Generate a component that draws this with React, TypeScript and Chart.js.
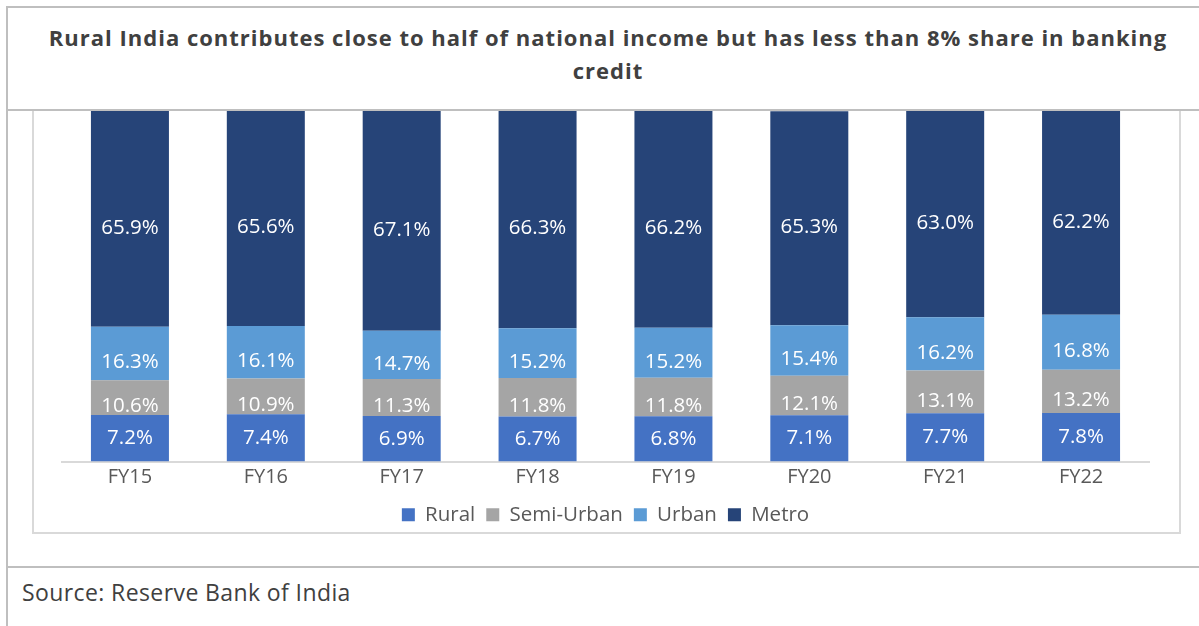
import React, { useEffect, useRef } from "react";
import { Chart, registerables } from "chart.js";

Chart.register(...registerables);

const categories = ["FY15", "FY16", "FY17", "FY18", "FY19", "FY20", "FY21", "FY22"];
const rural = [7.2, 7.4, 6.9, 6.7, 6.8, 7.1, 7.7, 7.8];
const semiUrban = [10.6, 10.9, 11.3, 11.8, 11.8, 12.1, 13.1, 13.2];
const urban = [16.3, 16.1, 14.7, 15.2, 15.2, 15.4, 16.2, 16.8];
const metro = [65.9, 65.6, 67.1, 66.3, 66.2, 65.3, 63.0, 62.2];
const seriesNames = ["Rural", "Semi-Urban", "Urban", "Metro"];
const axisMin = -7;
const axisMax = 100;

const titleText = "Rural India contributes close to half of national income but has less than 8% share in banking";
const titleText2 = "credit";
const sourceText = "Source: Reserve Bank of India";

const FONT = "'Open Sans', 'Noto Sans', sans-serif";

const labelPlugin = {
  id: "segLabels",
  afterDatasetsDraw(chart: any) {
    const ctx = chart.ctx;
    ctx.save();
    ctx.fillStyle = "#ffffff";
    ctx.font = `20.5px ${FONT}`;
    ctx.textAlign = "center";
    ctx.textBaseline = "middle";
    chart.data.datasets.forEach((ds: any, di: number) => {
      const meta = chart.getDatasetMeta(di);
      meta.data.forEach((bar: any, i: number) => {
        const { x, y, base } = bar.getProps(["x", "y", "base"], true);
        const off = di === 0 ? 0 : 9;
        ctx.fillText(Number(ds.data[i]).toFixed(1) + "%", x, (y + base) / 2 + off);
      });
    });
    ctx.restore();
  },
};

export default function App() {
  const ref = useRef<HTMLCanvasElement | null>(null);

  useEffect(() => {
    if (!ref.current) return;
    const colors = ["#4472C4", "#A5A5A5", "#5B9BD5", "#264478"];
    const values = [rural, semiUrban, urban, metro];
    const chart = new Chart(ref.current, {
      type: "bar",
      data: {
        labels: categories,
        datasets: values.map((v, i) => ({
          label: seriesNames[i],
          data: v,
          backgroundColor: colors[i],
          borderWidth: 0,
          categoryPercentage: 1,
          barPercentage: 0.574,
          ...(i === 0 ? { base: axisMin } : {}),
        })),
      },
      options: {
        animation: false,
        responsive: false,
        maintainAspectRatio: false,
        layout: { padding: { left: 28, right: 29, top: 0, bottom: 0 } },
        scales: {
          x: {
            stacked: true,
            grid: { display: false, drawTicks: false },
            border: { display: true, color: "#d9d9d9", width: 2 },
            ticks: { color: "#595959", font: { family: FONT, size: 20 }, padding: 4 },
          },
          y: {
            stacked: true,
            display: false,
            min: axisMin,
            max: axisMax,
          },
        },
        plugins: {
          legend: {
            position: "bottom",
            labels: {
              color: "#595959",
              font: { family: FONT, size: 20.5 },
              boxWidth: 13,
              boxHeight: 13,
              padding: 11,
            },
          },
          tooltip: { enabled: false },
        },
      },
      plugins: [labelPlugin],
    });
    return () => chart.destroy();
  }, []);

  const line = (style: React.CSSProperties) => (
    <div style={{ position: "absolute", background: "#bfbfbf", ...style }} />
  );

  return (
    <div style={{ position: "fixed", left: 0, top: 0, width: 1199, height: 626, background: "#fff", overflow: "hidden" }}>
      {line({ left: 6, top: 6, width: 1193, height: 2 })}
      {line({ left: 6, top: 6, width: 2, height: 620 })}
      {line({ left: 6, top: 109, width: 1193, height: 2 })}
      {line({ left: 6, top: 566, width: 1193, height: 2 })}
      <div
        style={{
          position: "absolute",
          left: 32,
          top: 111,
          width: 1145,
          height: 421,
          borderLeft: "2px solid #d9d9d9",
          borderRight: "2px solid #d9d9d9",
          borderBottom: "2px solid #d9d9d9",
        }}
      />
      <div
        style={{
          position: "absolute",
          left: 8,
          top: 21,
          width: 1200,
          textAlign: "center",
          fontFamily: FONT,
          fontWeight: 700,
          fontSize: 22,
          letterSpacing: "1px",
          lineHeight: "33px",
          color: "#404040",
        }}
      >
        {titleText}
        <br />
        {titleText2}
      </div>
      <canvas
        ref={ref}
        width={1144}
        height={424}
        style={{ position: "absolute", left: 34, top: 111, width: 1144, height: 424 }}
      />
      <div
        style={{
          position: "absolute",
          left: 22,
          top: 576,
          fontFamily: FONT,
          fontSize: 23,
          letterSpacing: "0.4px",
          lineHeight: "32px",
          color: "#404040",
          whiteSpace: "nowrap",
        }}
      >
        {sourceText}
      </div>
    </div>
  );
}
